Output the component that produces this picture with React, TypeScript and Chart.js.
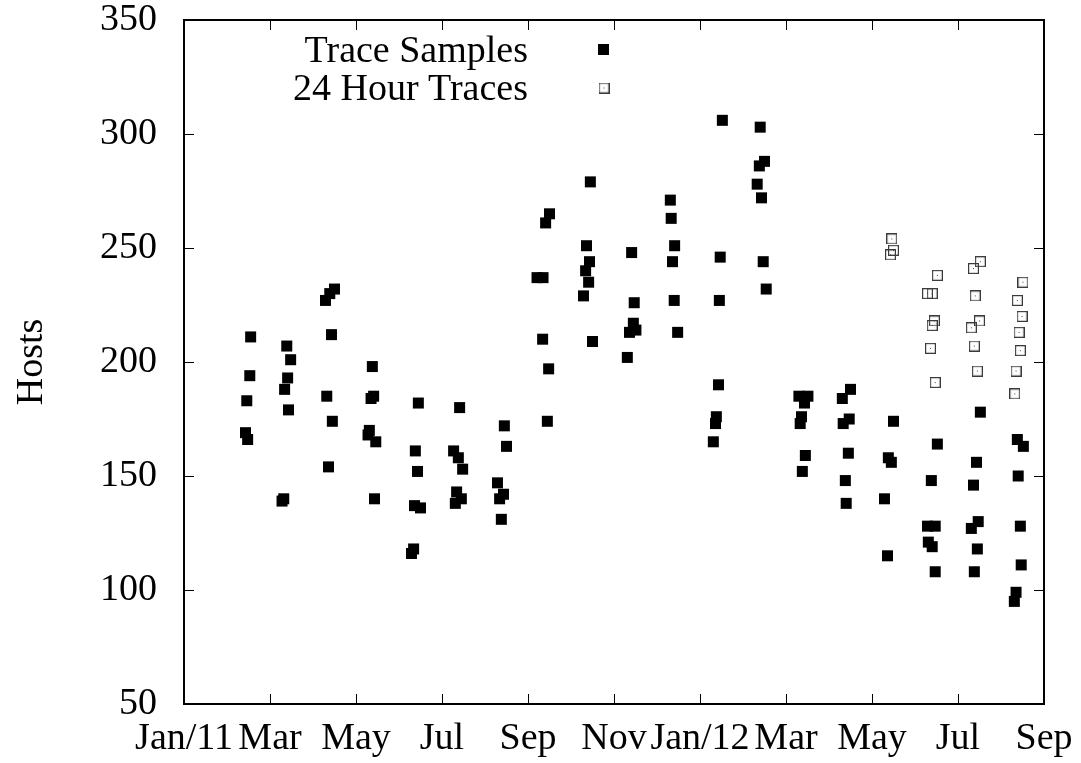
import React, { useEffect, useRef } from "react";
import { Chart, registerables } from "chart.js";

Chart.register(...registerables);

// x positions are in months since Jan 2011 (0 = Jan/11, 20 = Sep/12)
const tickLabels = ["Jan/11", "Mar", "May", "Jul", "Sep", "Nov", "Jan/12", "Mar", "May", "Jul", "Sep"];

const sampleMonths = [
  1.55, 1.53, 1.46, 1.43, 1.48,
  2.39, 2.48, 2.41, 2.34, 2.43, 2.32, 2.28,
  3.50, 3.39, 3.29, 3.43, 3.32, 3.45, 3.36,
  4.38, 4.41, 4.35, 4.31, 4.28, 4.46, 4.43,
  5.45, 5.38, 5.43, 5.36, 5.50, 5.34, 5.29,
  6.41, 6.27, 6.38, 6.48, 6.34, 6.45, 6.31,
  7.45, 7.50, 7.29, 7.43, 7.34, 7.38,
  8.50, 8.41, 8.21, 8.35, 8.34, 8.48, 8.45,
  9.45, 9.36, 9.43, 9.34, 9.41, 9.29, 9.50,
  10.41, 10.47, 10.45, 10.51, 10.36, 10.31,
  11.31, 11.33, 11.41, 11.36, 11.40, 11.48,
  12.52, 12.47, 12.45, 12.43, 12.38, 12.36, 12.31,
  13.40, 13.50, 13.38, 13.33, 13.43, 13.47, 13.54,
  14.30, 14.51, 14.43, 14.36, 14.33, 14.45, 14.38,
  15.50, 15.31, 15.47, 15.33, 15.45, 15.38, 15.40,
  16.50, 16.38, 16.45, 16.29, 16.36,
  17.52, 17.38, 17.29, 17.47, 17.31, 17.40, 17.47,
  18.52, 18.43, 18.36, 18.47, 18.31, 18.45, 18.38,
  19.38, 19.52, 19.40, 19.45, 19.47, 19.35, 19.31,
];

const sampleHosts = [
  211, 194, 183, 169, 166,
  207, 201, 193, 188, 179, 140, 139,
  232, 230, 227, 212, 185, 174, 154,
  198, 185, 184, 170, 168, 165, 140,
  182, 161, 152, 137, 136, 118, 116,
  180, 161, 158, 153, 143, 140, 138,
  172, 163, 147, 142, 140, 131,
  265, 261, 237, 237, 210, 197, 174,
  279, 251, 244, 240, 235, 229, 209,
  248, 226, 217, 214, 213, 202,
  271, 263, 251, 244, 227, 213,
  306, 246, 227, 190, 176, 173, 165,
  303, 288, 286, 278, 272, 244, 232,
  185, 185, 182, 176, 173, 159, 152,
  188, 184, 175, 173, 160, 148, 138,
  174, 158, 156, 140, 115,
  164, 148, 128, 128, 121, 119, 108,
  178, 156, 146, 130, 127, 118, 108,
  166, 163, 150, 128, 111, 99, 95,
];

const dayMonths = [
  16.46, 16.50, 16.43,
  17.52, 17.29, 17.40, 17.45, 17.40, 17.36, 17.47,
  18.52, 18.36, 18.40, 18.50, 18.31, 18.38, 18.45,
  19.51, 19.38, 19.49, 19.42, 19.45, 19.35, 19.32,
];

const dayHosts = [
  254, 249, 247,
  238, 230, 230, 218, 216, 206, 191,
  244, 241, 229, 218, 215, 207, 196,
  235, 227, 220, 213, 205, 196, 186,
];

const seriesNames = ["Trace Samples", "24 Hour Traces"];

const FONT = "Liberation Serif";

function makeOpenSquare(): HTMLCanvasElement {
  const c = document.createElement("canvas");
  c.width = 11;
  c.height = 11;
  const g = c.getContext("2d")!;
  g.strokeStyle = "#3a3a3a";
  g.lineWidth = 1.2;
  g.strokeRect(0.6, 0.6, 9.8, 9.8);
  g.fillStyle = "#444";
  g.fillRect(5, 5, 1, 1);
  return c;
}

export default function App() {
  const ref = useRef<HTMLCanvasElement>(null);

  useEffect(() => {
    const openSq = makeOpenSquare();

    const framePlugin = {
      id: "gnuframe",
      afterDraw(chart: any) {
        const { ctx, chartArea } = chart;
        const { left, right, top, bottom } = chartArea;
        const xs = chart.scales.x;
        const ys = chart.scales.y;
        ctx.save();
        ctx.strokeStyle = "#000";
        // ticks (inward, mirrored)
        ctx.lineWidth = 1;
        ctx.beginPath();
        xs.ticks.forEach((t: any) => {
          const px = Math.round(xs.getPixelForValue(t.value)) + 0.5;
          if (px <= left + 2 || px >= right - 2) return;
          ctx.moveTo(px, bottom);
          ctx.lineTo(px, bottom - 10);
          ctx.moveTo(px, top);
          ctx.lineTo(px, top + 10);
        });
        ys.ticks.forEach((t: any) => {
          const py = Math.round(ys.getPixelForValue(t.value)) + 0.5;
          if (py <= top + 2 || py >= bottom - 2) return;
          ctx.moveTo(left, py);
          ctx.lineTo(left + 10, py);
          ctx.moveTo(right, py);
          ctx.lineTo(right - 10, py);
        });
        ctx.stroke();
        // border box
        ctx.lineWidth = 2;
        ctx.strokeRect(left, top, right - left, bottom - top);

        // y title
        ctx.fillStyle = "#000";
        ctx.font = `38px "${FONT}"`;
        ctx.save();
        ctx.translate(41.5, (top + bottom) / 2);
        ctx.rotate(-Math.PI / 2);
        ctx.textAlign = "center";
        ctx.textBaseline = "alphabetic";
        ctx.fillText("Hosts", 0, 0);
        ctx.restore();

        // legend
        ctx.textAlign = "right";
        ctx.textBaseline = "alphabetic";
        ctx.fillText(seriesNames[0], 528, 62);
        ctx.fillText(seriesNames[1], 528, 100);
        ctx.fillStyle = "#000";
        ctx.fillRect(598, 44, 11, 11);
        ctx.drawImage(openSq, 598.5, 82.5);
        ctx.restore();
      },
    };

    const chart = new Chart(ref.current!, {
      type: "scatter",
      data: {
        datasets: [
          {
            label: seriesNames[0],
            data: sampleMonths.map((m, i) => ({ x: m, y: sampleHosts[i] })),
            pointStyle: "rect",
            pointRadius: 7.78,
            pointBackgroundColor: "#000",
            pointBorderWidth: 0,
            borderWidth: 0,
          },
          {
            label: seriesNames[1],
            data: dayMonths.map((m, i) => ({ x: m, y: dayHosts[i] })),
            pointStyle: openSq as any,
            pointRadius: 5,
            pointBorderWidth: 0,
          },
        ],
      },
      options: {
        responsive: false,
        animation: false,
        devicePixelRatio: 1,
        layout: { padding: { top: 20, right: 37, left: 0, bottom: 0 } },
        plugins: {
          legend: { display: false },
          tooltip: { enabled: false },
        },
        scales: {
          x: {
            type: "linear",
            min: 0,
            max: 20,
            border: { display: false },
            grid: { display: false, drawTicks: false },
            ticks: {
              stepSize: 2,
              autoSkip: false,
              maxRotation: 0,
              padding: 16,
              color: "#000",
              font: { family: FONT, size: 38, lineHeight: 1 },
              callback: (v: any) => tickLabels[Math.round(Number(v) / 2)] ?? "",
            },
            afterFit: (s: any) => {
              s.height = 59;
              s.paddingLeft = 0;
              s.paddingRight = 0;
              s.paddingTop = 0;
              s.paddingBottom = 0;
            },
          },
          y: {
            type: "linear",
            min: 50,
            max: 350,
            border: { display: false },
            grid: { display: false, drawTicks: false },
            ticks: {
              stepSize: 50,
              padding: 27,
              color: "#000",
              font: { family: FONT, size: 38, lineHeight: 1 },
            },
            afterFit: (s: any) => {
              s.width = 184;
              s.paddingLeft = 0;
              s.paddingRight = 0;
              s.paddingTop = 0;
              s.paddingBottom = 0;
            },
          },
        },
      },
      plugins: [framePlugin],
    });
    return () => chart.destroy();
  }, []);

  return (
    <div style={{ position: "absolute", left: 0, top: 0, width: 1081, height: 763, background: "#fff" }}>
      <canvas ref={ref} width={1081} height={763} style={{ display: "block" }} />
    </div>
  );
}
